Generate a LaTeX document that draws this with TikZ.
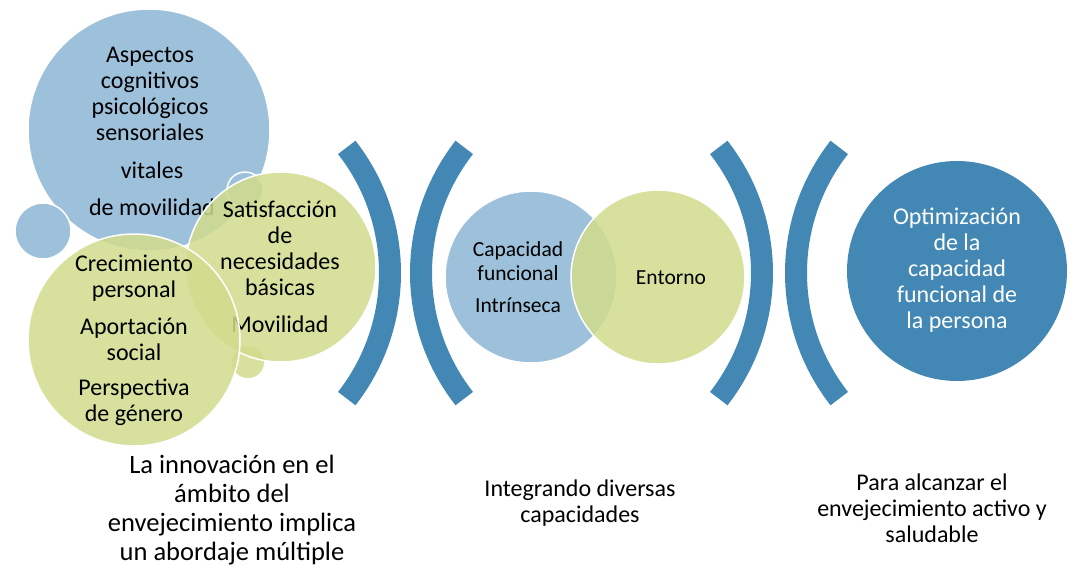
\documentclass[tikz,border=0pt]{standalone}
\usepackage{fontspec}
\setmainfont{Carlito}
\usetikzlibrary{positioning}
\definecolor{lightblue}{RGB}{158,193,219}
\definecolor{lightgreen}{RGB}{209,219,140}
\definecolor{darkblue}{RGB}{67,136,180}
\tikzset{
bubble/.style={circle, draw=white, line width=1.5pt, inner sep=0pt, minimum size=#1}, % every circle of the figure
blue bubble/.style={bubble=#1, fill=lightblue},
green bubble/.style={bubble=#1, fill=lightgreen, fill opacity=0.85}, % lets the overlaps show through
paren/.style={darkblue, line width=22pt}, % the big brackets
bubble text/.style={align=center, inner sep=0pt, font=\fontsize{24}{26}\selectfont},
small text/.style={align=center, inner sep=0pt, font=\fontsize{21.5}{24}\selectfont},
caption/.style={align=center, inner sep=0pt, font=\fontsize{24}{26}\selectfont},
}

\begin{document}
\begin{tikzpicture}[x=1pt, y=-1pt]
    \useasboundingbox (0,0) rectangle (1074,568);
    % Left cluster
    \node[blue bubble=242pt] (aspectos) at (149,130) {};
    \node[blue bubble=56pt] (dotA) at (43,231) {};
    \node[blue bubble=36pt] (dotB) at (245,190) {};
    \node[bubble text] (aspectosTxt) at (150,94) {Aspectos\\cognitivos\\psicológicos\\sensoriales};
    \node[bubble text] (vitales) at (152,170) {vitales};
    \node[bubble text] (movilidadA) at (152,207) {de movilidad};
    \node[green bubble=34pt] (dotC) at (248,362) {};
    \node[green bubble=190pt] (satisf) at (281,267) {};
    \node[bubble text] (satisfTxt) at (280,248) {Satisfacción\\de\\necesidades\\básicas};
    \node[bubble text] (movilidadB) at (280,324) {Movilidad};
    \node[green bubble=212pt] (crec) at (134,340) {};
    \node[bubble text] (crecTxt) at (134,278) {Crecimiento\\personal};
    \node[bubble text] (aport) at (134,339) {Aportación\\social};
    \node[bubble text] (persp) at (134,402) {Perspectiva\\de género};
    % Brackets
    \draw[paren] (186,273) ++(-38:204) arc[start angle=-38, end angle=38, radius=204];
    \draw[paren] (625,273) ++(142:204) arc[start angle=142, end angle=218, radius=204];
    \draw[paren] (558,273) ++(-38:204) arc[start angle=-38, end angle=38, radius=204];
    \draw[paren] (1000,273) ++(142:204) arc[start angle=142, end angle=218, radius=204];
    % Middle pair
    \node[blue bubble=172pt] (capac) at (531,277) {};
    \node[small text] (capacTxt) at (518,261) {Capacidad\\funcional};
    \node[small text] (intrin) at (518,305) {Intrínseca};
    \node[green bubble=174pt] (entorno) at (658,277) {};
    \node[small text] (entornoTxt) at (671,278) {Entorno};
    % Result
    \node[bubble=220pt, draw=none, fill=darkblue] (optim) at (957,271) {};
    \node[bubble text, text=white] (optimTxt) at (957,270) {Optimización\\de la\\capacidad\\funcional de\\la persona};
    % Captions
    \node[caption, font=\fontsize{26.5}{29}\selectfont] (capA) at (232,510) {La innovación en el\\ámbito del\\envejecimiento implica\\un abordaje múltiple};
    \node[caption] (capB) at (580,503) {Integrando diversas\\capacidades};
    \node[caption] (capC) at (932,508) {Para alcanzar el\\envejecimiento activo y\\saludable};
\end{tikzpicture}
\end{document}
